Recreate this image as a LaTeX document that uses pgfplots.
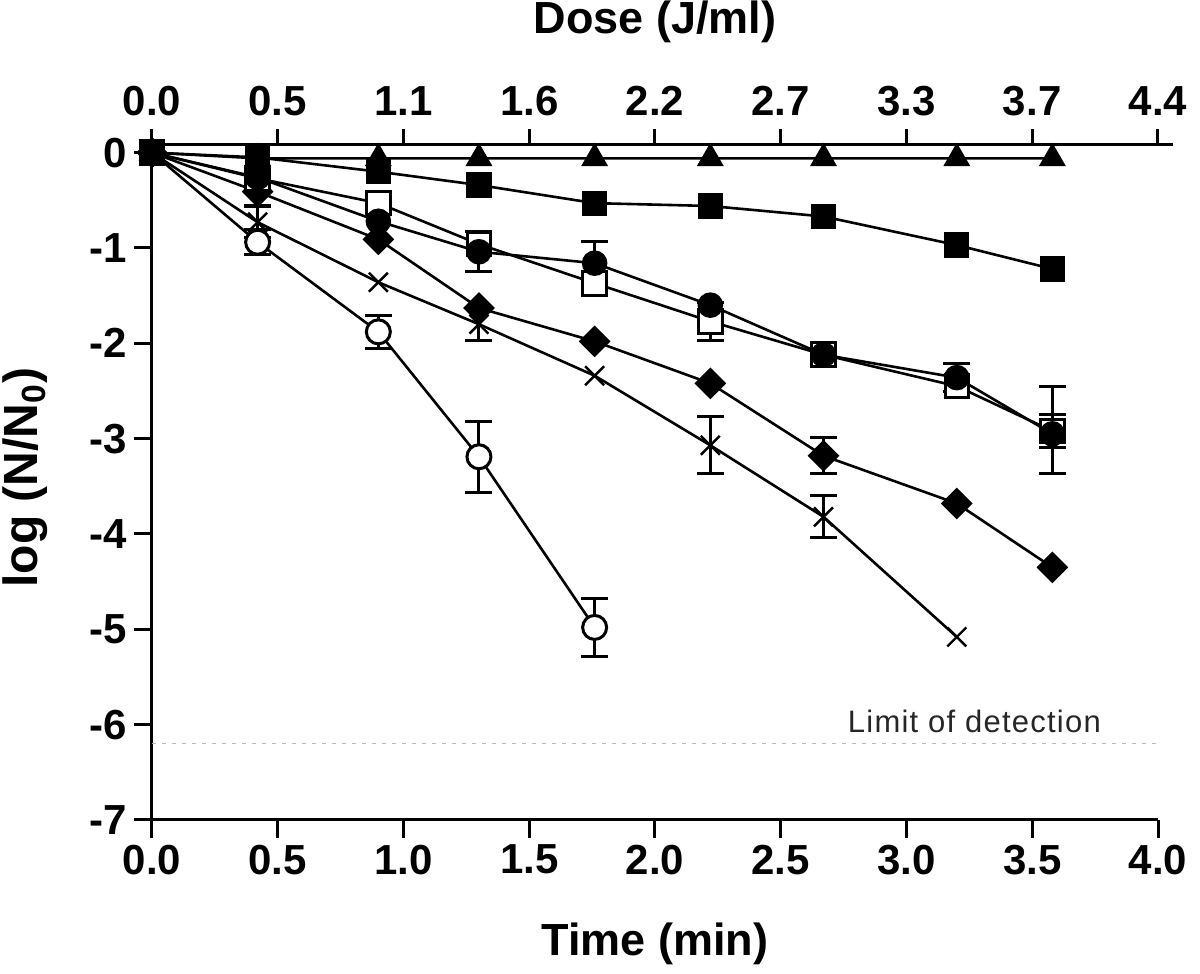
\documentclass[border=0pt]{standalone}
\usepackage{fontspec}
\setmainfont{Liberation Sans}
\usepackage{pgfplots}
\pgfplotsset{compat=1.18}

\pgfplotstableread{
x y
0 0
0.42 -0.94
0.9 -1.88
1.3 -3.19
1.76 -4.98
}\opencirc
\pgfplotstableread{
x y e
0.42 -0.94 0.13
0.9 -1.88 0.17
1.3 -3.19 0.37
1.76 -4.98 0.30
}\opencircerr
\pgfplotstableread{
x y
0 0
0.42 -0.73
0.9 -1.36
1.3 -1.80
1.76 -2.34
2.22 -3.07
2.67 -3.82
3.2 -5.08
}\cross
\pgfplotstableread{
x y e
0.42 -0.73 0.16
1.3 -1.80 0.17
2.22 -3.07 0.30
2.67 -3.82 0.22
}\crosserr
\pgfplotstableread{
x y
0 0
0.42 -0.41
0.9 -0.91
1.3 -1.63
1.76 -1.98
2.22 -2.42
2.67 -3.18
3.2 -3.68
3.58 -4.35
}\diam
\pgfplotstableread{
x y e
0.42 -0.41 0.14
2.67 -3.18 0.19
}\diamerr
\pgfplotstableread{
x y
0 0
0.42 -0.27
0.9 -0.53
1.3 -0.96
1.76 -1.37
2.22 -1.77
2.67 -2.12
3.2 -2.45
3.58 -2.92
}\opensq
\pgfplotstableread{
x y e
2.22 -1.77 0.20
3.58 -2.92 0.17
}\opensqerr
\pgfplotstableread{
x y
0 0
0.42 -0.26
0.9 -0.72
1.3 -1.04
1.76 -1.16
2.22 -1.60
2.67 -2.12
3.2 -2.36
3.58 -2.95
}\fillcirc
\pgfplotstableread{
x y e
1.3 -1.04 0.21
1.76 -1.16 0.23
3.2 -2.36 0.15
3.58 -2.91 0.46
}\fillcircerr
\pgfplotstableread{
x y
0 0
0.42 -0.05
0.9 -0.20
1.3 -0.34
1.76 -0.53
2.22 -0.56
2.67 -0.67
3.2 -0.97
3.58 -1.22
}\fillsq
\pgfplotstableread{
x y
0 0
0.42 -0.06
0.9 -0.06
1.3 -0.06
1.76 -0.06
2.22 -0.06
2.67 -0.06
3.2 -0.06
3.58 -0.06
}\tri

\begin{document}
\begin{tikzpicture}
\path[use as bounding box] (-76pt,-77pt) rectangle (524pt,410pt);
\begin{axis}[
  at={(0,0)}, anchor=south west,
  scale only axis, width=510.5pt, height=337.5pt,
  xmin=0, xmax=4.06, ymin=-7, ymax=0.08,
  axis x line*=top, axis y line=none,
  axis line style={line width=1.5pt, -},
  xtick={0,0.5,...,4}, xticklabels={0.0,0.5,1.1,1.6,2.2,2.7,3.3,3.7,4.4},
  ytick=\empty,
  tick align=outside, major tick length=8pt,
  tick style={line width=1.5pt, black},
  ticklabel style={font=\fontsize{21}{21}\selectfont\bfseries},
  xticklabel style={yshift=3pt},
  xlabel={Dose (J/ml)},
  label style={font=\fontsize{22.5}{22.5}\selectfont\bfseries},
  xlabel style={at={(axis description cs:0.4927,1.182)}, anchor=center},
]
\end{axis}
\begin{axis}[
  at={(0,0)}, anchor=south west,
  scale only axis, width=503pt, height=337.5pt,
  xmin=0, xmax=4, ymin=-7, ymax=0.08,
  axis x line*=bottom, axis y line*=left,
  axis line style={line width=1.5pt, -},
  xtick={0,0.5,...,4}, xticklabels={0.0,0.5,1.0,1.5,2.0,2.5,3.0,3.5,4.0},
  ytick={-7,-6,...,0}, yticklabels={-7,-6,-5,-4,-3,-2,-1,0},
  tick align=outside, major tick length=9pt,
  tick style={line width=1.5pt, black},
  ticklabel style={font=\fontsize{21}{21}\selectfont\bfseries},
  xlabel={Time (min)}, ylabel={log (N/N\textsubscript{0})},
  label style={font=\fontsize{22.5}{22.5}\selectfont\bfseries},
  xlabel style={at={(axis description cs:0.5,-0.1837)}, anchor=center},
  ylabel style={at={(axis description cs:-0.126,0.507)}, anchor=center, font=\fontsize{24}{24}\selectfont\bfseries},
  clip=false,
  every axis plot/.append style={line width=1.3pt},
]
% limit of detection
\addplot[gray!55, line width=0.7pt, dash pattern=on 2pt off 3pt, forget plot] coordinates {(0,-6.2) (4,-6.2)};
\node[anchor=base, text=black!85, font=\fontsize{15.5}{15.5}\selectfont\addfontfeature{LetterSpace=4}] at (axis cs:3.27,-6.08) {Limit of detection};

% error bars
\pgfplotsset{errstyle/.style={draw=none, forget plot, error bars/.cd, y dir=both, y explicit,
  error bar style={draw=black, line width=1.5pt, solid},
  error mark options={draw=black, line width=1.5pt, mark size=6.75pt, rotate=90}}}
\addplot[errstyle] table[x=x, y=y, y error=e] {\opencircerr};
\addplot[errstyle] table[x=x, y=y, y error=e] {\crosserr};
\addplot[errstyle] table[x=x, y=y, y error=e] {\diamerr};
\addplot[errstyle] table[x=x, y=y, y error=e] {\opensqerr};
\addplot[errstyle] table[x=x, y=y, y error=e] {\fillcircerr};

% series
\addplot[black, mark=*, mark size=6pt, mark options={fill=white, draw=black, line width=1.5pt}] table[x=x,y=y] {\opencirc};
\addplot[black, mark=x, mark size=6.7pt, mark options={line width=1.2pt}] table[x=x,y=y] {\cross};
\addplot[black, mark=square*, mark size=5.2pt, mark options={fill=black, rotate=45, line width=0.8pt}] table[x=x,y=y] {\diam};
\addplot[black, mark=square*, mark size=5.9pt, mark options={fill=white, draw=black, line width=1.5pt}] table[x=x,y=y] {\opensq};
\addplot[black, mark=*, mark size=6pt, mark options={fill=black, line width=0.8pt}] table[x=x,y=y] {\fillcirc};
\addplot[black, mark=square*, mark size=5.9pt, mark options={fill=black, line width=0.8pt}] table[x=x,y=y] {\fillsq};
\addplot[black, mark=triangle*, mark size=7pt, mark options={fill=black, line width=0.8pt}] table[x=x,y=y] {\tri};
\end{axis}
\end{tikzpicture}
\end{document}
